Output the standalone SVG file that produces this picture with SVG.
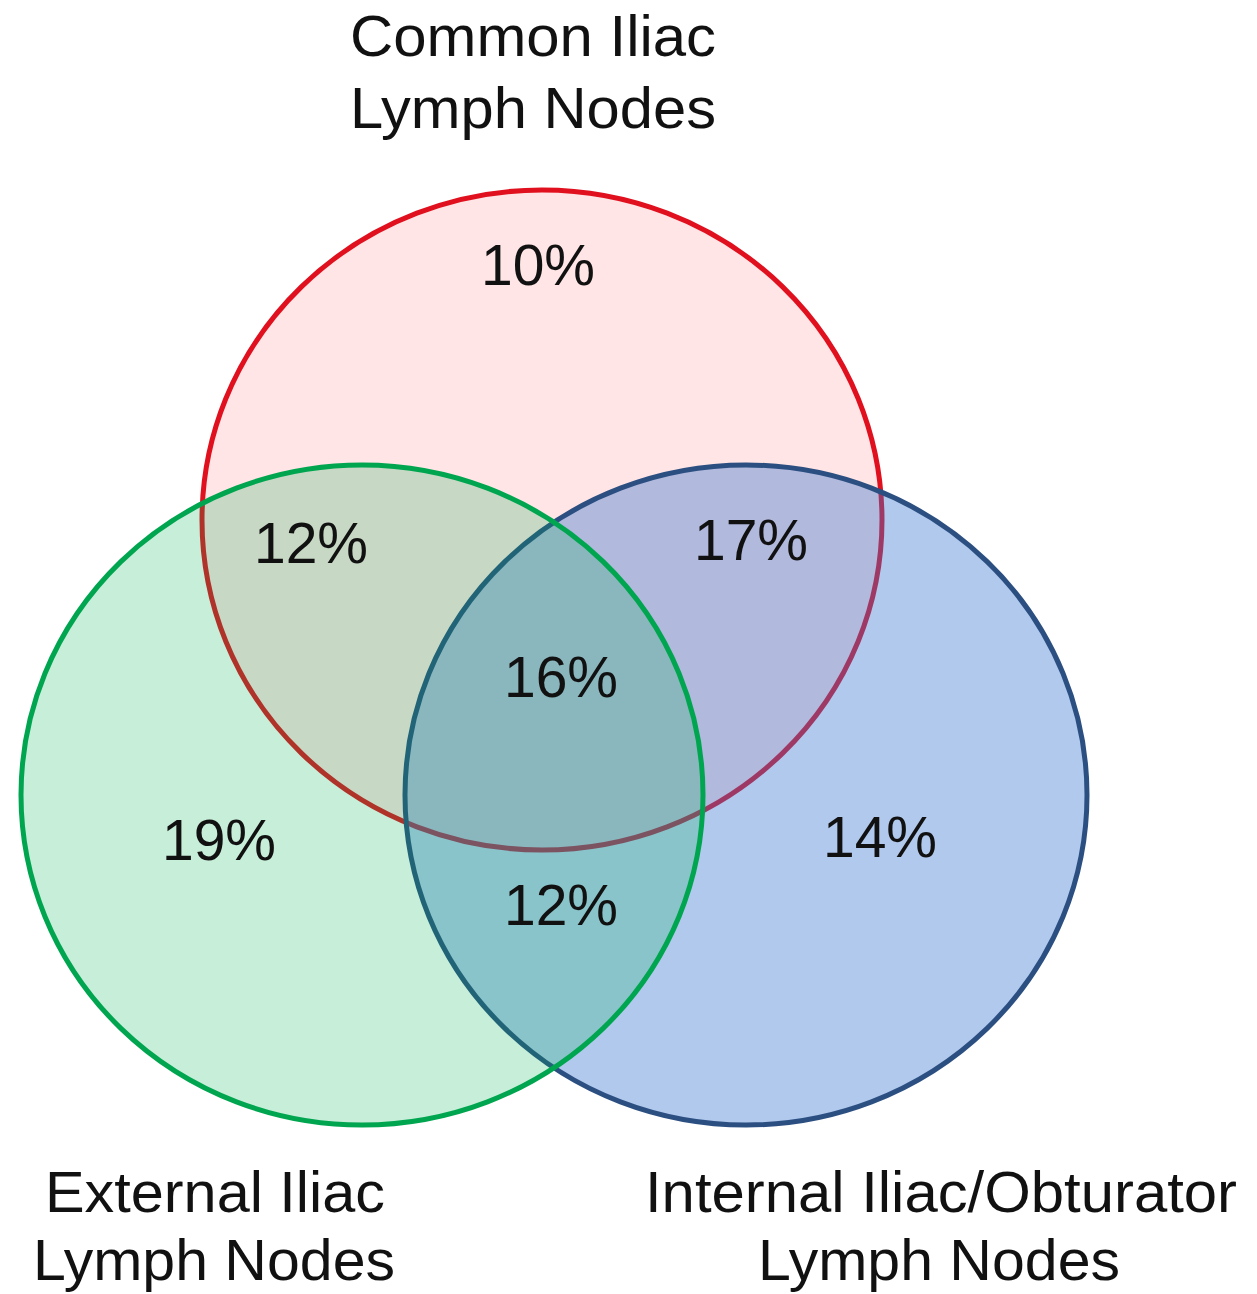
<svg xmlns="http://www.w3.org/2000/svg" width="1257" height="1294" viewBox="0 0 1257 1294">
<style>
text{font-family:"Liberation Sans",Arial,sans-serif;fill:#111;font-size:57px}
.pct{text-anchor:middle}
</style>
<rect width="1257" height="1294" fill="#fff"/>
<g id="common">
<ellipse cx="542" cy="520" rx="340" ry="330" fill="rgb(255,0,0)" fill-opacity="0.1" stroke="#e0101e" stroke-width="5"/>
</g>
<g id="internal">
<ellipse cx="746" cy="795" rx="341" ry="330" fill="rgb(60,120,210)" fill-opacity="0.4" stroke="#2c4f82" stroke-width="5"/>
</g>
<g id="external">
<ellipse cx="362" cy="795" rx="341" ry="330" fill="rgb(0,176,80)" fill-opacity="0.22" stroke="#00a550" stroke-width="5"/>
</g>
<g id="labels">
<text x="350" y="56" textLength="366" lengthAdjust="spacingAndGlyphs">Common Iliac</text>
<text x="350" y="128" textLength="366" lengthAdjust="spacingAndGlyphs">Lymph Nodes</text>
<text x="45" y="1212" textLength="340" lengthAdjust="spacingAndGlyphs">External Iliac</text>
<text x="33" y="1280" textLength="362" lengthAdjust="spacingAndGlyphs">Lymph Nodes</text>
<text x="645" y="1212" textLength="592" lengthAdjust="spacingAndGlyphs">Internal Iliac/Obturator</text>
<text x="758" y="1280" textLength="362" lengthAdjust="spacingAndGlyphs">Lymph Nodes</text>
</g>
<g id="percentages">
<text class="pct" x="538" y="285">10%</text>
<text class="pct" x="311" y="563">12%</text>
<text class="pct" x="751" y="560">17%</text>
<text class="pct" x="561" y="697">16%</text>
<text class="pct" x="219" y="860">19%</text>
<text class="pct" x="880" y="857">14%</text>
<text class="pct" x="561" y="925">12%</text>
</g>
<g id="connectors"></g>
</svg>
